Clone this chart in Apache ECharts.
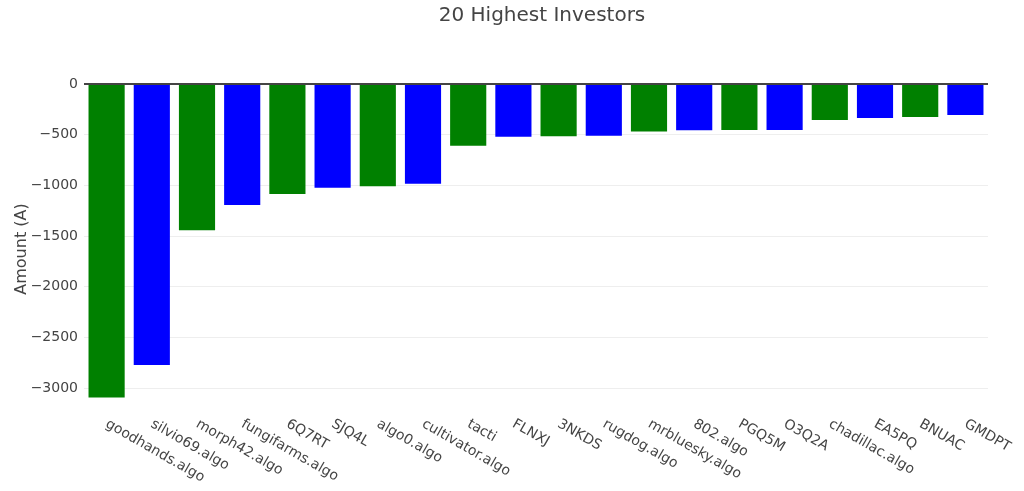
<!DOCTYPE html>
<html>
<head>
<meta charset="utf-8">
<script src="https://cdn.jsdelivr.net/npm/echarts@6/dist/echarts.min.js"></script>
<style>html,body{margin:0;padding:0;background:#fff}#c{width:1024px;height:491px}</style>
</head>
<body>
<div id="c"></div>
<script>
const categories = ["goodhands.algo","silvio69.algo","morph42.algo","fungifarms.algo","6Q7RT","SJQ4L","algo0.algo","cultivator.algo","tacti","FLNXJ","3NKDS","rugdog.algo","mrbluesky.algo","802.algo","PGQ5M","O3Q2A","chadillac.algo","EA5PQ","BNUAC","GMDPT"];
const amounts = [-3095,-2775,-1445,-1195,-1085,-1025,-1010,-985,-610,-520,-515,-510,-470,-457,-455,-454,-355,-336,-326,-306];
const barColors = ["#008000","#0000ff"];
const titleText = "20 Highest Investors";
const yName = "Amount (A)";

const chart = echarts.init(document.getElementById('c'));
chart.setOption({
  animation: false,
  backgroundColor: '#fff',
  title: { text: titleText, left: 537, textAlign: 'center', top: 1,
    textStyle: { fontFamily: 'DejaVu Sans', fontSize: 20, fontWeight: 'normal', color: '#444' } },
  grid: { left: 84, right: 36, top: 84, bottom: 77 },
  xAxis: {
    type: 'category', data: categories, position: 'bottom',
    axisLine: { show: false, onZero: false }, axisTick: { show: false },
    axisLabel: { rotate: -30, interval: 0, margin: 9, fontFamily: 'DejaVu Sans', fontSize: 14, color: '#444' }
  },
  yAxis: {
    type: 'value', max: 0, min: -3258, splitNumber: 7,
    name: yName, nameLocation: 'middle', nameGap: 54, nameMoveOverlap: false,
    nameTextStyle: { fontFamily: 'DejaVu Sans', fontSize: 16, color: '#444' },
    axisLine: { show: false }, axisTick: { show: false },
    axisLabel: { showMinLabel: false, margin: 6, fontFamily: 'DejaVu Sans', fontSize: 14, color: '#444',
      formatter: v => String(v).replace('-', '\u2212') },
    splitLine: { showMinLine: false, lineStyle: { color: '#eeeeee', width: 1 } }
  },
  series: [{
    type: 'bar', barCategoryGap: '20%',
    data: amounts.map((v, i) => ({ value: v, itemStyle: { color: barColors[i % 2] } })),
    markLine: { silent: true, symbol: 'none', label: { show: false },
      lineStyle: { color: '#444', width: 2, type: 'solid' }, data: [{ yAxis: 0 }] }
  }]
});
</script>
</body>
</html>
